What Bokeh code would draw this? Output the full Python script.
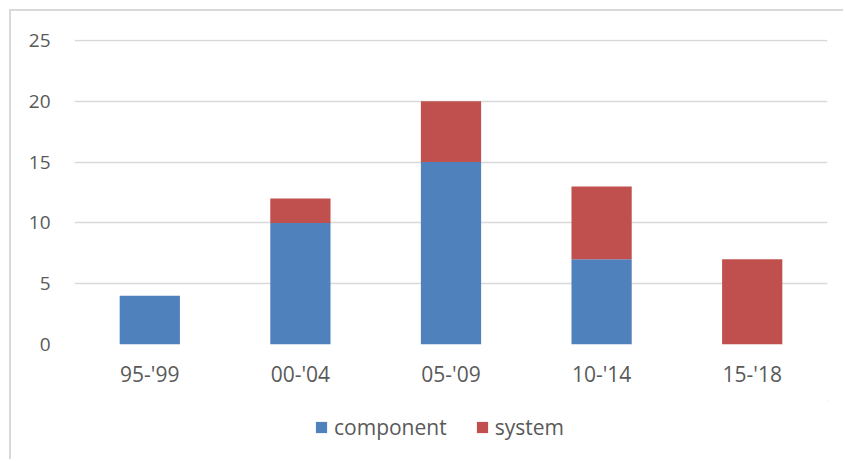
from bokeh.plotting import figure
from bokeh.layouts import column
from bokeh.models import FactorRange, Range1d, FixedTicker, Legend, LegendItem
from bokeh.embed import file_html
from bokeh.resources import INLINE

periods = ["95-'99", "00-'04", "05-'09", "10-'14", "15-'18"]
component = [4, 10, 15, 7, 0]
system = [0, 2, 5, 6, 7]
y_ticks = [0, 5, 10, 15, 20, 25]
series = ["component", "system"]
colors = ["#4F81BD", "#C0504D"]

FONT = "Open Sans"
TXT = "#595959"

p = figure(width=832, height=389, output_backend="svg", toolbar_location=None,
           x_range=FactorRange(*periods, range_padding=0), y_range=Range1d(0, 25.08),
           min_border_left=63, min_border_right=16, min_border_top=28, min_border_bottom=56)

src = dict(period=periods, component=component, system=system)
r = p.vbar_stack(series, x="period", width=0.4, source=src,
                 color=colors, line_color=None)

p.outline_line_color = None
p.xgrid.grid_line_color = None
p.ygrid.grid_line_color = "#d9d9d9"
p.ygrid.grid_line_width = 1.5
p.yaxis.ticker = FixedTicker(ticks=y_ticks)
for ax in (p.xaxis, p.yaxis):
    ax.axis_line_color = None
    ax.major_tick_line_color = None
    ax.minor_tick_line_color = None
    ax.major_label_text_font = FONT
    ax.major_label_text_color = TXT
p.yaxis.major_label_text_font_size = "19px"
p.xaxis.major_label_text_font_size = "21px"
p.yaxis.major_label_standoff = 18
p.xaxis.major_label_standoff = 9

# legend strip below the chart (dummy renderers lie outside the strip's view)
p2 = figure(width=832, height=59, output_backend="svg", toolbar_location=None,
            x_range=Range1d(0, 1), y_range=Range1d(0, 1), min_border=0)
p2.axis.visible = False
p2.grid.visible = False
p2.outline_line_color = None
items = []
for name, col in zip(series, colors):
    rr = p2.vbar(x=[5], top=[5], bottom=[4], width=0.1, color=col, line_color=None)
    items.append(LegendItem(label=name, renderers=[rr]))
legend = Legend(items=items, orientation="horizontal", location=(240, 18),
                label_text_font=FONT, label_text_font_size="21px", label_text_color=TXT,
                glyph_width=14, glyph_height=14, label_standoff=6, spacing=28,
                border_line_color=None, background_fill_alpha=0, padding=0, margin=0)
p2.add_layout(legend, "center")

layout = column(p, p2, spacing=0)
layout.styles = {"margin-left": "9px", "margin-top": "9px",
                 "border-left": "2px solid #d9d9d9", "border-top": "2px solid #d9d9d9"}
open("out.html", "w").write(file_html(layout, INLINE))
